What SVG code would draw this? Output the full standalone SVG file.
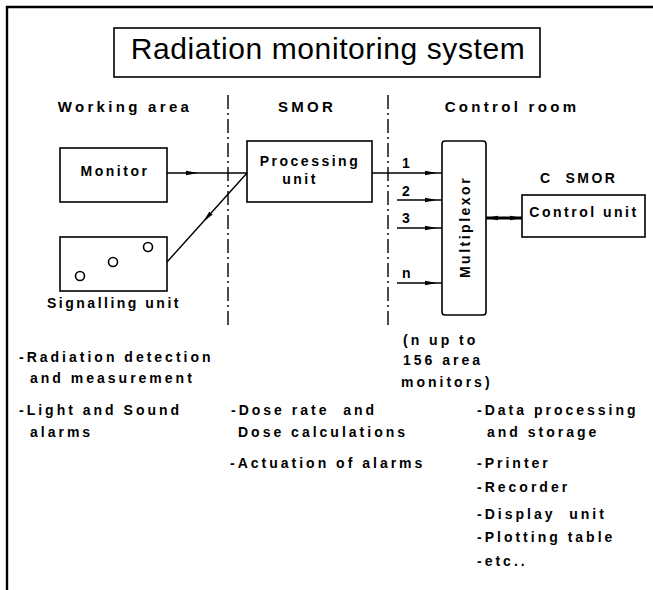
<svg xmlns="http://www.w3.org/2000/svg" width="653" height="590" viewBox="0 0 653 590">
<style>
text{font-family:"Liberation Sans",Arial,sans-serif;fill:#000}
.t{font-size:14px;font-weight:bold;letter-spacing:3px}
.h{font-size:15px;font-weight:bold;letter-spacing:3.3px}
.b{font-size:14px;font-weight:bold;letter-spacing:2.5px}
.title{font-size:30px;letter-spacing:0.6px}
.box{fill:none;stroke:#000;stroke-width:1.6}
.ln{fill:none;stroke:#000;stroke-width:1.4}
.dash{fill:none;stroke:#000;stroke-width:1.4;stroke-dasharray:14 4 2 4}
</style>
<defs>
<marker id="ah" viewBox="0 0 12 6" refX="12" refY="3" markerWidth="12" markerHeight="6" markerUnits="userSpaceOnUse" orient="auto-start-reverse">
<path d="M0,0.8 L12,3 L0,5.2 Z" fill="#000"/>
</marker>
</defs>
<rect width="653" height="590" fill="#fff"/>
<g id="frame">
<path d="M653,7 L7,7 L7,590" fill="none" stroke="#000" stroke-width="2.4"/>
</g>
<g id="title">
<rect class="box" x="114" y="28" width="426" height="49"/>
<text class="title" x="328" y="59" text-anchor="middle">Radiation monitoring system</text>
</g>
<g id="headers">
<text class="h" x="125" y="112" text-anchor="middle">Working area</text>
<text class="h" x="307" y="112" text-anchor="middle">SMOR</text>
<text class="h" x="512" y="112" text-anchor="middle">Control room</text>
</g>
<g id="separators">
<path class="dash" d="M228,95 L228,328"/>
<path class="dash" d="M388,95 L388,325"/>
</g>
<g id="monitor">
<rect class="box" x="60" y="148" width="107" height="54"/>
<text class="b" x="115" y="176" text-anchor="middle">Monitor</text>
</g>
<g id="signalling">
<rect class="box" x="60" y="237" width="107" height="54"/>
<circle class="box" cx="80" cy="276" r="4.5"/>
<circle class="box" cx="113" cy="262" r="4.5"/>
<circle class="box" cx="148" cy="247" r="4.5"/>
<text class="b" x="114" y="308" text-anchor="middle">Signalling unit</text>
</g>
<g id="processing">
<rect class="box" x="247" y="141" width="125" height="61"/>
<text class="b" x="310" y="166" text-anchor="middle">Processing</text>
<text class="b" x="300" y="184" text-anchor="middle">unit</text>
</g>
<g id="multiplexor">
<rect class="box" x="442" y="141" width="44" height="174" rx="3"/>
<text class="b" transform="translate(470,227) rotate(-90)" text-anchor="middle">Multiplexor</text>
</g>
<g id="control">
<text class="b" x="540" y="183" xml:space="preserve">C  SMOR</text>
<rect class="box" x="522" y="195" width="123" height="42"/>
<text class="b" x="584" y="217" text-anchor="middle">Control unit</text>
</g>
<g id="connectors">
<path class="ln" d="M167,173 L198,173 L247,173" marker-mid="url(#ah)"/>
<path class="ln" d="M247,173 L203,222 L167,262" marker-mid="url(#ah)"/>
<path class="ln" d="M372,173 L437,173 L442,173" marker-mid="url(#ah)"/>
<path class="ln" d="M397,200 L437,200 L442,200" marker-mid="url(#ah)"/>
<path class="ln" d="M397,228 L437,228 L442,228" marker-mid="url(#ah)"/>
<path class="ln" d="M397,283 L437,283 L442,283" marker-mid="url(#ah)"/>
<path d="M486,218 L522,218" fill="none" stroke="#000" stroke-width="3" marker-start="url(#ah)" marker-end="url(#ah)"/>
<text class="b" x="402" y="168">1</text>
<text class="b" x="402" y="196">2</text>
<text class="b" x="402" y="223">3</text>
<text class="b" x="402" y="278">n</text>
</g>
<g id="notes">
<text class="t" x="403" y="345">(n up to</text>
<text class="t" x="403" y="365">156 area</text>
<text class="t" x="401" y="387">monitors)</text>
<text class="t" x="19" y="362">-Radiation detection</text>
<text class="t" x="30" y="383">and measurement</text>
<text class="t" x="19" y="415">-Light and Sound</text>
<text class="t" x="30" y="437">alarms</text>
<text class="t" x="231" y="415" xml:space="preserve">-Dose rate  and</text>
<text class="t" x="238" y="437">Dose calculations</text>
<text class="t" x="230" y="468">-Actuation of alarms</text>
<text class="t" x="477" y="415">-Data processing</text>
<text class="t" x="487" y="437">and storage</text>
<text class="t" x="477" y="468">-Printer</text>
<text class="t" x="477" y="492">-Recorder</text>
<text class="t" x="477" y="519" xml:space="preserve">-Display  unit</text>
<text class="t" x="477" y="542">-Plotting table</text>
<text class="t" x="477" y="566">-etc..</text>
</g>
</svg>
